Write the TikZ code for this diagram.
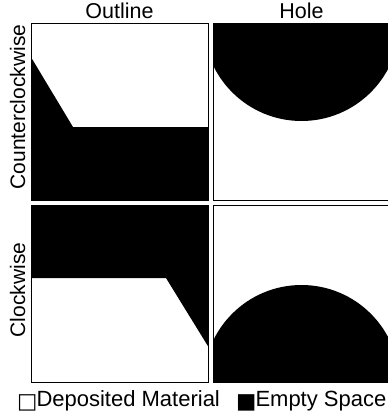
\documentclass[tikz,border=0pt]{standalone}
\usepackage{fontspec}
\setmainfont{Liberation Sans}
\newfontfamily\symfont{DejaVu Sans}
\newcommand{\legsq}[1]{{\symfont\fontsize{21.5}{24}\selectfont\raisebox{-1.5pt}{#1}}\kern-1pt}
\begin{document}
\begin{tikzpicture}[x=1pt,y=-1pt,
  panel/.style={draw=black,line width=1pt},
  lab/.style={font=\fontsize{21.5}{24}\selectfont,inner sep=0pt},
  leg/.style={font=\fontsize{22}{24}\selectfont,inner sep=0pt},
  emptyfill/.style={fill=black}]
\useasboundingbox (0,0) rectangle (388,416);
\clip (0,0) rectangle (388,416);
% titles
\node[lab,anchor=base] (tOut) at (119.5,18.3) {Outline};
\node[lab,anchor=base] (tHole) at (301.5,18.3) {Hole};
\node[lab,anchor=base,rotate=90,font=\fontsize{21}{24}\selectfont] (rCCW) at (25,107) {Counterclockwise};
\node[lab,anchor=base,rotate=90,font=\fontsize{21}{24}\selectfont] (rCW) at (25,290) {Clockwise};
% top-left: outline, counterclockwise
\fill[emptyfill] (31.5,58) -- (73,127) -- (208.5,127) -- (208.5,200.5) -- (31.5,200.5) -- cycle;
\draw[panel] (31.5,23.5) rectangle (208.5,200.5);
% top-right: hole, counterclockwise
\begin{scope}
\clip (213,23.5) rectangle (390,200.5);
\fill[emptyfill] (301.5,23) circle (98);
\end{scope}
\draw[panel] (213,23.5) rectangle (390,200.5);
% bottom-left: outline, clockwise
\fill[emptyfill] (31.5,205) -- (208.5,205) -- (208.5,347) -- (166,278) -- (31.5,278) -- cycle;
\draw[panel] (31.5,205) rectangle (208.5,382.5);
% bottom-right: hole, clockwise
\begin{scope}
\clip (213,205) rectangle (390,382.5);
\fill[emptyfill] (301.5,383) circle (98);
\end{scope}
\draw[panel] (213,205) rectangle (390,382.5);
% legend
\node[leg,anchor=base west] (legDep) at (17,406.7) {\legsq{□}Deposited Material};
\node[leg,anchor=base west] (legEmp) at (236,406.7) {\legsq{■}Empty Space};
\end{tikzpicture}
\end{document}
